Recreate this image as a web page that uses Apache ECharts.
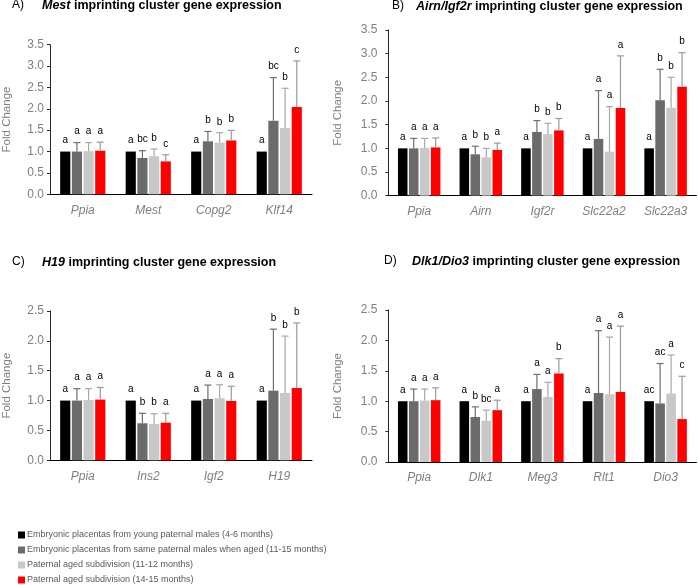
<!DOCTYPE html>
<html>
<head>
<meta charset="utf-8">
<script src="https://cdn.jsdelivr.net/npm/echarts@6/dist/echarts.min.js"></script>
<style>
html,body{margin:0;padding:0;background:#fff;}
#chart{width:698px;height:585px;}
</style>
</head>
<body>
<div id="chart"></div>
<script>
// ---------- Data ----------
const seriesNames = [
  'Embryonic placentas from young paternal males (4-6 months)',
  'Embryonic placentas from same paternal males when aged (11-15 months)',
  'Paternal aged subdivision (11-12 months)',
  'Paternal aged subdivision (14-15 months)'
];

// Panel A: Mest cluster
const catsA = ['Ppia', 'Mest', 'Copg2', 'Klf14'];
const youngA = [1, 1, 1, 1];
const agedA = [1.0, 0.85, 1.24, 1.72];
const sub1A = [1.01, 0.89, 1.21, 1.55];
const sub2A = [1.02, 0.77, 1.26, 2.04];
const agedErrA = [0.21, 0.17, 0.23, 1.01];
const sub1ErrA = [0.20, 0.17, 0.23, 0.93];
const sub2ErrA = [0.20, 0.155, 0.235, 1.08];
const lblYoungA = ['a', 'a', 'a', 'a'];
const lblAgedA = ['a', 'bc', 'b', 'bc'];
const lblSub1A = ['a', 'b', 'b', 'b'];
const lblSub2A = ['a', 'c', 'b', 'c'];

// Panel B: Airn/Igf2r cluster
const catsB = ['Ppia', 'Airn', 'Igf2r', 'Slc22a2', 'Slc22a3'];
const youngB = [1, 1, 1, 1, 1];
const agedB = [1.0, 0.875, 1.347, 1.20, 2.015];
const sub1B = [1.01, 0.81, 1.30, 0.93, 1.86];
const sub2B = [1.02, 0.966, 1.38, 1.854, 2.30];
const agedErrB = [0.21, 0.17, 0.24, 1.02, 0.655];
const sub1ErrB = [0.20, 0.19, 0.23, 0.95, 0.64];
const sub2ErrB = [0.20, 0.145, 0.25, 1.10, 0.72];
const lblYoungB = ['a', 'a', 'a', 'a', 'a'];
const lblAgedB = ['a', 'b', 'b', 'a', 'b'];
const lblSub1B = ['a', 'b', 'b', 'a', 'b'];
const lblSub2B = ['a', 'a', 'b', 'a', 'b'];

// Panel C: H19 cluster
const catsC = ['Ppia', 'Ins2', 'Igf2', 'H19'];
const youngC = [1, 1, 1, 1];
const agedC = [1.0, 0.62, 1.027, 1.166];
const sub1C = [1.01, 0.608, 1.04, 1.127];
const sub2C = [1.017, 0.63, 0.993, 1.21];
const agedErrC = [0.20, 0.167, 0.233, 1.03];
const sub1ErrC = [0.19, 0.172, 0.225, 0.953];
const sub2ErrC = [0.203, 0.157, 0.247, 1.09];
const lblYoungC = ['a', 'a', 'a', 'a'];
const lblAgedC = ['a', 'b', 'a', 'b'];
const lblSub1C = ['a', 'b', 'a', 'b'];
const lblSub2C = ['a', 'a', 'a', 'b'];

// Panel D: Dlk1/Dio3 cluster
const catsD = ['Ppia', 'Dlk1', 'Meg3', 'Rlt1', 'Dio3'];
const youngD = [1, 1, 1, 1, 1];
const agedD = [1.0, 0.74, 1.2, 1.135, 0.963];
const sub1D = [1.01, 0.68, 1.07, 1.115, 1.126];
const sub2D = [1.017, 0.853, 1.457, 1.152, 0.706];
const agedErrD = [0.20, 0.167, 0.24, 1.025, 0.657];
const sub1ErrD = [0.19, 0.173, 0.24, 0.94, 0.634];
const sub2ErrD = [0.203, 0.163, 0.243, 1.083, 0.704];
const lblYoungD = ['a', 'a', 'a', 'a', 'ac'];
const lblAgedD = ['a', 'b', 'a', 'a', 'ac'];
const lblSub1D = ['a', 'bc', 'a', 'a', 'a'];
const lblSub2D = ['a', 'a', 'b', 'a', 'c'];

const yMaxA = 3.5, yMaxB = 3.5, yMaxC = 2.5, yMaxD = 2.5;

// ---------- Styling ----------
const FONT = 'Liberation Sans, Arial, sans-serif';
const barColors = ['#000000', '#6b6b6b', '#c8c8c8', '#ff0000'];
const errColors = ['#000000', '#6f6f6f', '#a8a8a8', '#9a9a9a'];
const BW = 0.155, BG = 0.15;

const panels = [
  {cats: catsA, vals: [youngA, agedA, sub1A, sub2A], errs: [null, agedErrA, sub1ErrA, sub2ErrA],
   lbls: [lblYoungA, lblAgedA, lblSub1A, lblSub2A], max: yMaxA,
   grid: {left: 49, top: 44.7, width: 263, height: 149.6}, labMargin: 6, nameGap: 37},
  {cats: catsB, vals: [youngB, agedB, sub1B, sub2B], errs: [null, agedErrB, sub1ErrB, sub2ErrB],
   lbls: [lblYoungB, lblAgedB, lblSub1B, lblSub2B], max: yMaxB,
   grid: {left: 388.4, top: 30, width: 308, height: 165.7}, labMargin: 11, nameGap: 45},
  {cats: catsC, vals: [youngC, agedC, sub1C, sub2C], errs: [null, agedErrC, sub1ErrC, sub2ErrC],
   lbls: [lblYoungC, lblAgedC, lblSub1C, lblSub2C], max: yMaxC,
   grid: {left: 49, top: 311, width: 263, height: 149.3}, labMargin: 6, nameGap: 37},
  {cats: catsD, vals: [youngD, agedD, sub1D, sub2D], errs: [null, agedErrD, sub1ErrD, sub2ErrD],
   lbls: [lblYoungD, lblAgedD, lblSub1D, lblSub2D], max: yMaxD,
   grid: {left: 388.4, top: 310, width: 308, height: 152}, labMargin: 11, nameGap: 45}
];

const grids = [], xAxes = [], yAxes = [], series = [];
panels.forEach((p, gi) => {
  grids.push(Object.assign({containLabel: false}, p.grid));
  xAxes.push({
    type: 'category', gridIndex: gi, data: p.cats,
    axisLine: {lineStyle: {color: '#000', width: 1}},
    axisTick: {show: false},
    axisLabel: {color: '#7f7f7f', fontStyle: 'italic', fontSize: 12, fontFamily: FONT, margin: 10}
  });
  yAxes.push({
    type: 'value', gridIndex: gi, min: 0, max: p.max, interval: 0.5,
    name: 'Fold Change', nameLocation: 'middle', nameGap: p.nameGap,
    nameTextStyle: {color: '#7f7f7f', fontSize: 11.5, fontFamily: FONT},
    axisLine: {show: true, lineStyle: {color: '#262626', width: 1}},
    axisTick: {show: true, length: 3, lineStyle: {color: '#262626'}},
    splitLine: {show: false},
    axisLabel: {color: '#7f7f7f', fontSize: 12, fontFamily: FONT, margin: p.labMargin,
      formatter: v => v.toFixed(1)}
  });
  for (let k = 0; k < 4; k++) {
    series.push({
      type: 'bar', name: seriesNames[k], xAxisIndex: gi, yAxisIndex: gi,
      data: p.vals[k], barWidth: (BW * 100) + '%', barGap: (BG * 100) + '%',
      itemStyle: {color: barColors[k]}, silent: true, animation: false
    });
  }
  for (let k = 0; k < 4; k++) {
    const means = p.vals[k], errs = p.errs[k], lbls = p.lbls[k];
    series.push({
      type: 'custom', xAxisIndex: gi, yAxisIndex: gi, z: 5, silent: true, animation: false,
      data: means.map((m, i) => [i, m, m + (errs ? errs[i] : 0)]),
      renderItem: (params, api) => {
        const i = api.value(0), m = api.value(1), top = api.value(2);
        const band = api.size([1, 0])[0];
        const w = band * BW, pitch = w * (1 + BG);
        const cx = api.coord([i, 0])[0] + (k - 1.5) * pitch;
        const yM = api.coord([i, m])[1], yT = api.coord([i, top])[1];
        const children = [];
        if (top > m) {
          children.push({type: 'line', shape: {x1: cx, y1: yM, x2: cx, y2: yT},
            style: {stroke: errColors[k], lineWidth: 1.2}});
          children.push({type: 'line', shape: {x1: cx - 3.5, y1: yT, x2: cx + 3.5, y2: yT},
            style: {stroke: errColors[k], lineWidth: 1.2}});
        }
        children.push({type: 'text', style: {text: lbls[params.dataIndex], x: cx, y: yT - 6,
          textAlign: 'center', textVerticalAlign: 'bottom', fill: '#000', fontSize: 10, fontFamily: FONT}});
        return {type: 'group', children};
      }
    });
  }
});

const titles = [
  {x: 12, y: 6, letter: 'A)', rich: '{bi|Mest}{b| imprinting cluster gene expression}', tx: 42},
  {x: 392, y: 7, letter: 'B)', rich: '{bi|Airn/Igf2r}{b| imprinting cluster gene expression}', tx: 416},
  {x: 12, y: 263, letter: 'C)', rich: '{bi|H19}{b| imprinting cluster gene expression}', tx: 42},
  {x: 384, y: 262, letter: 'D)', rich: '{bi|Dlk1/Dio3}{b| imprinting cluster gene expression}', tx: 412}
];
const graphic = [];
titles.forEach(t => {
  graphic.push({type: 'text', left: t.x, top: t.y - 7, style: {text: t.letter, fontSize: 12, fontFamily: FONT, fill: '#000'}});
  graphic.push({type: 'text', left: t.tx, top: t.y - 7, style: {text: t.rich, fontFamily: FONT, fill: '#000',
    rich: {bi: {fontWeight: 'bold', fontStyle: 'italic', fontSize: 12.5, fontFamily: FONT, fill: '#000'},
           b: {fontWeight: 'bold', fontSize: 12.5, fontFamily: FONT, fill: '#000'}}}});
});

const chart = echarts.init(document.getElementById('chart'), null, {renderer: 'canvas'});
chart.setOption({
  animation: false,
  backgroundColor: '#fff',
  grid: grids, xAxis: xAxes, yAxis: yAxes, series: series,
  graphic: graphic,
  legend: {
    data: seriesNames.map((n, k) => ({name: n, itemStyle: {color: barColors[k]}})),
    orient: 'vertical', left: 18, top: 530, height: 80, padding: 0,
    itemWidth: 7, itemHeight: 7, itemGap: 5,
    icon: 'rect', selectedMode: false,
    textStyle: {color: '#595959', fontSize: 9, fontFamily: FONT, lineHeight: 10, padding: [0, 0, 0, -3]}
  }
});
</script>
</body>
</html>
